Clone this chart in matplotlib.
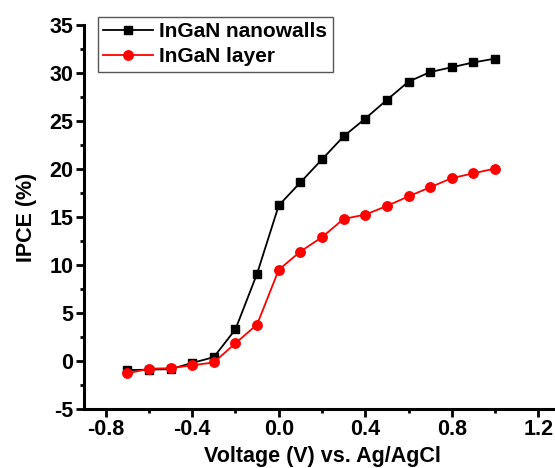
import matplotlib
matplotlib.use("Agg")
import matplotlib.pyplot as plt
from matplotlib.ticker import MultipleLocator

voltage = [-0.7, -0.6, -0.5, -0.4, -0.3, -0.2, -0.1, 0.0, 0.1, 0.2, 0.3, 0.4, 0.5, 0.6, 0.7, 0.8, 0.9, 1.0]
nanowalls = [-0.95, -0.9, -0.85, -0.2, 0.4, 3.3, 9.1, 16.2, 18.6, 21.0, 23.4, 25.25, 27.2, 29.1, 30.1, 30.6, 31.1, 31.5]
layer = [-1.3, -0.8, -0.75, -0.45, -0.15, 1.85, 3.8, 9.5, 11.4, 12.9, 14.8, 15.25, 16.15, 17.15, 18.1, 19.05, 19.55, 20.05]

plt.rcParams['font.family'] = ['Liberation Sans', 'DejaVu Sans']
plt.rcParams['font.weight'] = 'bold'

W, H = 555, 468
fig = plt.figure(figsize=(W / 100, H / 100), dpi=100)
ax = fig.add_axes([84 / W, (H - 409) / H, 476 / W, 384 / H])

ax.plot(voltage, nanowalls, color='black', lw=1.3, marker='s', ms=6.2, label='InGaN nanowalls')
ax.plot(voltage, layer, color='red', lw=1.3, marker='o', ms=6.8, label='InGaN layer')

ax.set_xlim(-0.9, 1.3)
ax.set_ylim(-5, 35)
ax.xaxis.set_minor_locator(MultipleLocator(0.2))
ax.yaxis.set_minor_locator(MultipleLocator(2.5))
ax.set_xticks([-0.8, -0.4, 0.0, 0.4, 0.8, 1.2])
ax.set_xticklabels(['-0.8', '-0.4', '0.0', '0.4', '0.8', '1.2'])
ax.set_yticks([-5, 0, 5, 10, 15, 20, 25, 30, 35])
ax.set_yticklabels(['-5', '0', '5', '10', '15', '20', '25', '30', '35'])

for s in ['top', 'right']:
    ax.spines[s].set_visible(False)
for s in ['left', 'bottom']:
    ax.spines[s].set_linewidth(2.2)

ax.tick_params(which='major', direction='out', length=5.5, width=2, labelsize=15.5, pad=2)
ax.tick_params(which='minor', direction='out', length=3, width=2)
for lab in ax.get_xticklabels() + ax.get_yticklabels():
    lab.set_fontweight('bold')

ax.set_xlabel('Voltage (V) vs. Ag/AgCl', fontsize=15.5, fontweight='bold', labelpad=4)
ax.set_ylabel('IPCE (%)', fontsize=15.5, fontweight='bold', labelpad=9)

leg = fig.legend(loc='upper left', bbox_to_anchor=(98 / W, 1 - 17 / H), borderaxespad=0,
                 fancybox=False, framealpha=1, edgecolor='#555555',
                 handlelength=2.4, handletextpad=0.3, labelspacing=0.3,
                 borderpad=0.25, prop={'weight': 'bold', 'size': 15})
leg.get_frame().set_linewidth(1.0)

fig.savefig('out.png', dpi=100)
